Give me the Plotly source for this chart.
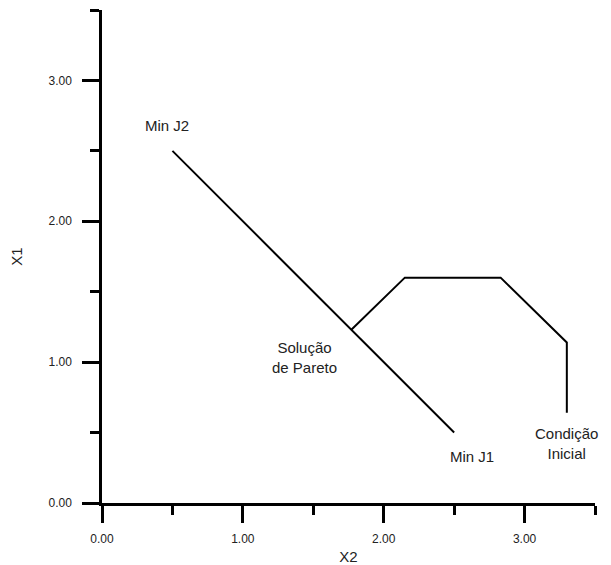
import plotly.graph_objects as go

# Pareto line (Min J2 -> Min J1)
pareto_x2 = [0.5, 2.5]
pareto_x1 = [2.5, 0.5]

# Trajectory from initial condition to Pareto solution
traj_x2 = [3.30, 3.30, 2.83, 2.15, 1.77]
traj_x1 = [0.64, 1.14, 1.60, 1.60, 1.23]

# Labels
label_text = ["Min J2", "Min J1", "Solução<br>de Pareto", "Condição<br>Inicial"]
label_x2 = [0.46, 2.63, 1.44, 3.30]
label_x1 = [2.68, 0.33, 1.035, 0.42]

tick_vals = [0, 1, 2, 3]
tick_text = ["0.00", "1.00", "2.00", "3.00"]

FONT = "Liberation Sans, Arial, sans-serif"

fig = go.Figure()
fig.add_trace(go.Scatter(x=pareto_x2, y=pareto_x1, mode="lines",
                         line=dict(color="black", width=2), showlegend=False,
                         hoverinfo="skip"))
fig.add_trace(go.Scatter(x=traj_x2, y=traj_x1, mode="lines",
                         line=dict(color="black", width=2), showlegend=False,
                         hoverinfo="skip"))

for t, x, y in zip(label_text, label_x2, label_x1):
    fig.add_annotation(x=x, y=y, text=t, showarrow=False, xref="x", yref="y",
                       font=dict(family=FONT, size=15, color="#222"),
                       align="center")

axis_common = dict(
    range=[0, 3.5],
    tickmode="array", tickvals=tick_vals, ticktext=tick_text,
    ticks="outside", ticklen=17, tickwidth=2.5, tickcolor="black",
    showline=True, linewidth=2.5, linecolor="black",
    showgrid=False, zeroline=False,
    tickfont=dict(family=FONT, size=12, color="#222"),
    minor=dict(dtick=0.5, tick0=0, ticks="outside", ticklen=9, tickwidth=2.5,
               tickcolor="black", showgrid=False),
)

fig.update_xaxes(**axis_common, ticklabelstandoff=6,
                 title=dict(text="X2", font=dict(family=FONT, size=15, color="#222"),
                            standoff=12))
fig.update_yaxes(**axis_common, ticklabelstandoff=8,
                 title=dict(text="X1", font=dict(family=FONT, size=15, color="#222"),
                            standoff=25))

# page body has an 8px default margin, so the figure is sized to fit the window
fig.update_layout(
    width=603, height=557,
    margin=dict(l=94, r=16, t=2, b=62, autoexpand=False),
    plot_bgcolor="white", paper_bgcolor="white",
    showlegend=False,
)

fig.write_html("out.html")
